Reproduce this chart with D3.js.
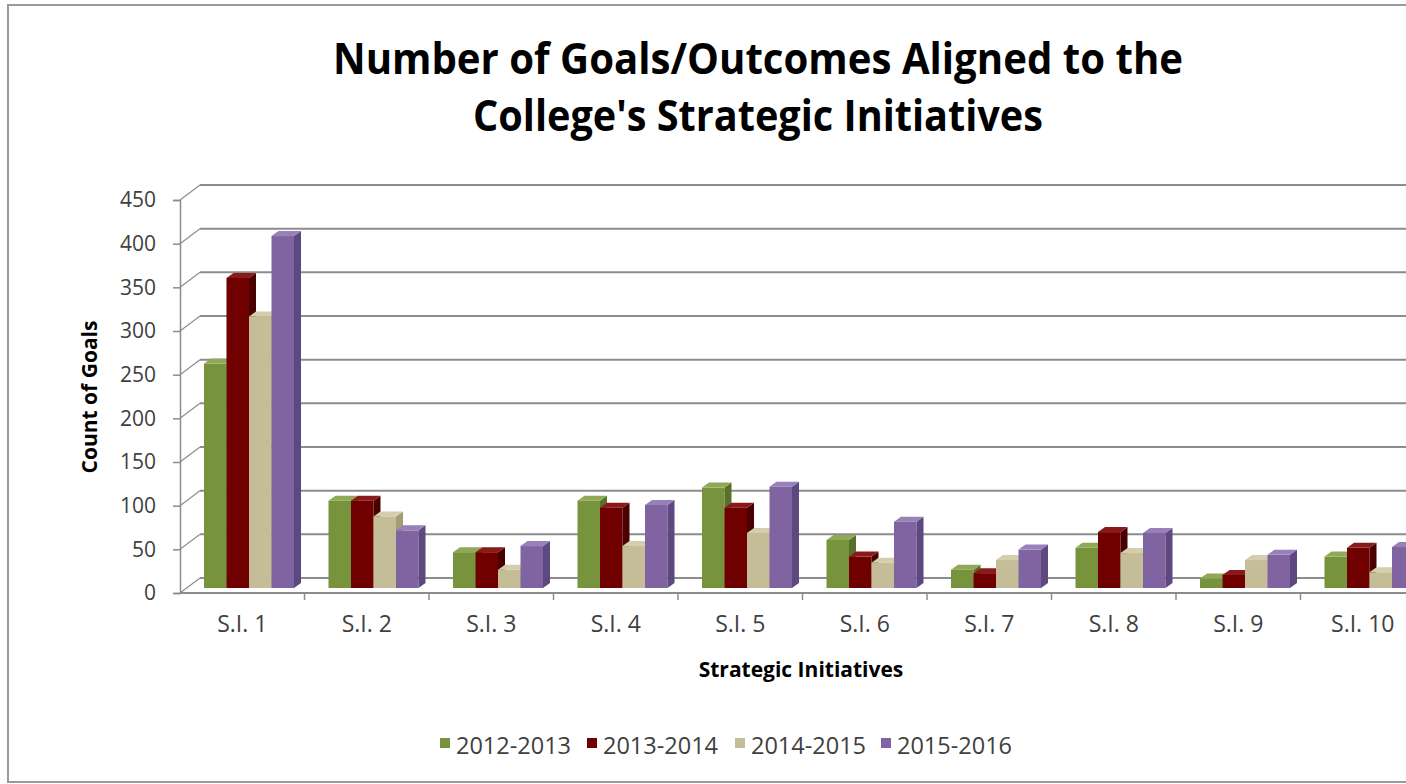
<!DOCTYPE html>
<html>
<head>
<meta charset="utf-8">
<script src="https://cdn.jsdelivr.net/npm/d3@7"></script>
<style>
  body { margin: 0; background: #fff; }
  text { font-family: "Open Sans", sans-serif; fill: #404040; }
</style>
</head>
<body>
<div id="chart"></div>
<script>
var categories = ["S.I. 1", "S.I. 2", "S.I. 3", "S.I. 4", "S.I. 5", "S.I. 6", "S.I. 7", "S.I. 8", "S.I. 9", "S.I. 10"];
var seriesNames = ["2012-2013", "2013-2014", "2014-2015", "2015-2016"];
var v2012 = [257, 100, 41, 100, 115, 55, 21, 46, 11, 36];
var v2013 = [355, 100, 41, 92, 92, 36, 17, 64, 15, 46];
var v2014 = [311, 82, 21, 48, 63, 29, 32, 40, 32, 18];
var v2015 = [403, 66, 48, 95, 116, 76, 44, 63, 38, 47];
var yTicks = [0, 50, 100, 150, 200, 250, 300, 350, 400, 450];

var seriesValues = [v2012, v2013, v2014, v2015];
var colors = [
  { front: "#77933c", side: "#58702a", top: "#8fa957" },
  { front: "#700000", side: "#4a0000", top: "#8a1a1a" },
  { front: "#c4bd97", side: "#a39c76", top: "#d4ceae" },
  { front: "#8064a2", side: "#5e4880", top: "#9880b8" }
];

var width = 1406, height = 784;
// 3d offsets: back wall and bar depth
var wallDx = 20, wallDy = -15;
var barDx = 7, barDy = -5;

var svg = d3.select("#chart").append("svg")
  .attr("width", width)
  .attr("height", height);

// outer frame
svg.append("rect")
  .attr("x", 8).attr("y", 5)
  .attr("width", width + 20).attr("height", 777)
  .attr("fill", "none").attr("stroke", "#9a9a9a").attr("stroke-width", 2);

var yScale = d3.scaleLinear().domain([0, 450]).range([593, 200]);
var xScale = d3.scaleBand().domain(categories).range([180, 1425]);
var xInner = d3.scaleBand().domain(seriesNames).range([17, 107]);

// back wall gridlines + left wall diagonals
var grid = svg.append("g");
yTicks.forEach(function (t) {
  var y = yScale(t);
  grid.append("line")
    .attr("x1", 180 + wallDx).attr("y1", y + wallDy)
    .attr("x2", width).attr("y2", y + wallDy)
    .attr("stroke", "#8c8c8c").attr("stroke-width", 2);
  grid.append("line")
    .attr("x1", 180).attr("y1", y)
    .attr("x2", 180 + wallDx).attr("y2", y + wallDy)
    .attr("stroke", "#8c8c8c").attr("stroke-width", 1.2);
});

// y axis (front edge)
var yAxis = d3.axisLeft(yScale).tickValues(yTicks).tickSize(7).tickPadding(17);
var yg = svg.append("g").attr("transform", "translate(180,0)").call(yAxis);
yg.select(".domain").attr("stroke", "#8c8c8c").attr("stroke-width", 1.5);
yg.selectAll(".tick line").attr("stroke", "#8c8c8c").attr("stroke-width", 1.5);
yg.selectAll(".tick text").style("font-size", "21px").attr("fill", "#404040")
  .style("font-family", "'Open Sans', sans-serif");

// x axis (front floor edge)
var xAxis = d3.axisBottom(xScale).tickSize(0).tickPadding(23);
var xg = svg.append("g").attr("transform", "translate(0,593)").call(xAxis);
xg.select(".domain").remove();
xg.selectAll(".tick text").style("font-size", "23px").attr("fill", "#404040")
  .style("font-family", "'Open Sans', sans-serif");
svg.append("line")
  .attr("x1", 180).attr("y1", 593).attr("x2", width).attr("y2", 593)
  .attr("stroke", "#8c8c8c").attr("stroke-width", 2);
svg.selectAll(".cat-tick").data(categories).enter().append("line")
  .attr("class", "cat-tick")
  .attr("x1", function (d) { return xScale(d) + xScale.bandwidth(); })
  .attr("x2", function (d) { return xScale(d) + xScale.bandwidth(); })
  .attr("y1", 593).attr("y2", 600)
  .attr("stroke", "#8c8c8c").attr("stroke-width", 1.5);

// 3d bars
var base = yScale(0) + barDy;
var bars = svg.append("g");
categories.forEach(function (c, ci) {
  seriesNames.forEach(function (s, si) {
    var v = seriesValues[si][ci];
    var x = xScale(c) + barDx + xInner(s);
    var w = xInner.bandwidth();
    var top = yScale(v) + barDy;
    var col = colors[si];
    bars.append("rect")
      .attr("x", x).attr("y", top)
      .attr("width", w).attr("height", base - top)
      .attr("fill", col.front);
    bars.append("path")
      .attr("d", "M" + (x + w) + "," + base +
        "L" + (x + w + barDx) + "," + (base + barDy) +
        "L" + (x + w + barDx) + "," + (top + barDy) +
        "L" + (x + w) + "," + top + "Z")
      .attr("fill", col.side);
    bars.append("path")
      .attr("d", "M" + x + "," + top +
        "L" + (x + barDx) + "," + (top + barDy) +
        "L" + (x + w + barDx) + "," + (top + barDy) +
        "L" + (x + w) + "," + top + "Z")
      .attr("fill", col.top);
  });
});

// title
svg.append("text")
  .attr("x", 758).attr("y", 74)
  .attr("text-anchor", "middle")
  .attr("textLength", 850).attr("lengthAdjust", "spacingAndGlyphs")
  .style("font-size", "43px").style("font-weight", "bold").style("fill", "#000")
  .text("Number of Goals/Outcomes Aligned to the");
svg.append("text")
  .attr("x", 758).attr("y", 131)
  .attr("text-anchor", "middle")
  .attr("textLength", 570).attr("lengthAdjust", "spacingAndGlyphs")
  .style("font-size", "43px").style("font-weight", "bold").style("fill", "#000")
  .text("College's Strategic Initiatives");

// axis titles
svg.append("text")
  .attr("x", 801).attr("y", 677)
  .attr("text-anchor", "middle")
  .style("font-size", "21px").style("font-weight", "bold").style("fill", "#000")
  .text("Strategic Initiatives");
svg.append("text")
  .attr("transform", "translate(97,397) rotate(-90)")
  .attr("text-anchor", "middle")
  .style("font-size", "21px").style("font-weight", "bold").style("fill", "#000")
  .text("Count of Goals");

// legend
var legendX = [440, 587, 735, 881];
var legend = svg.selectAll(".legend").data(seriesNames).enter().append("g")
  .attr("class", "legend")
  .attr("transform", function (d, i) { return "translate(" + legendX[i] + ",738)"; });
legend.append("rect")
  .attr("width", 10).attr("height", 10)
  .attr("fill", function (d, i) { return colors[i].front; });
legend.append("text")
  .attr("x", 16).attr("y", 16)
  .style("font-size", "23.5px")
  .text(function (d) { return d; });
</script>
</body>
</html>
